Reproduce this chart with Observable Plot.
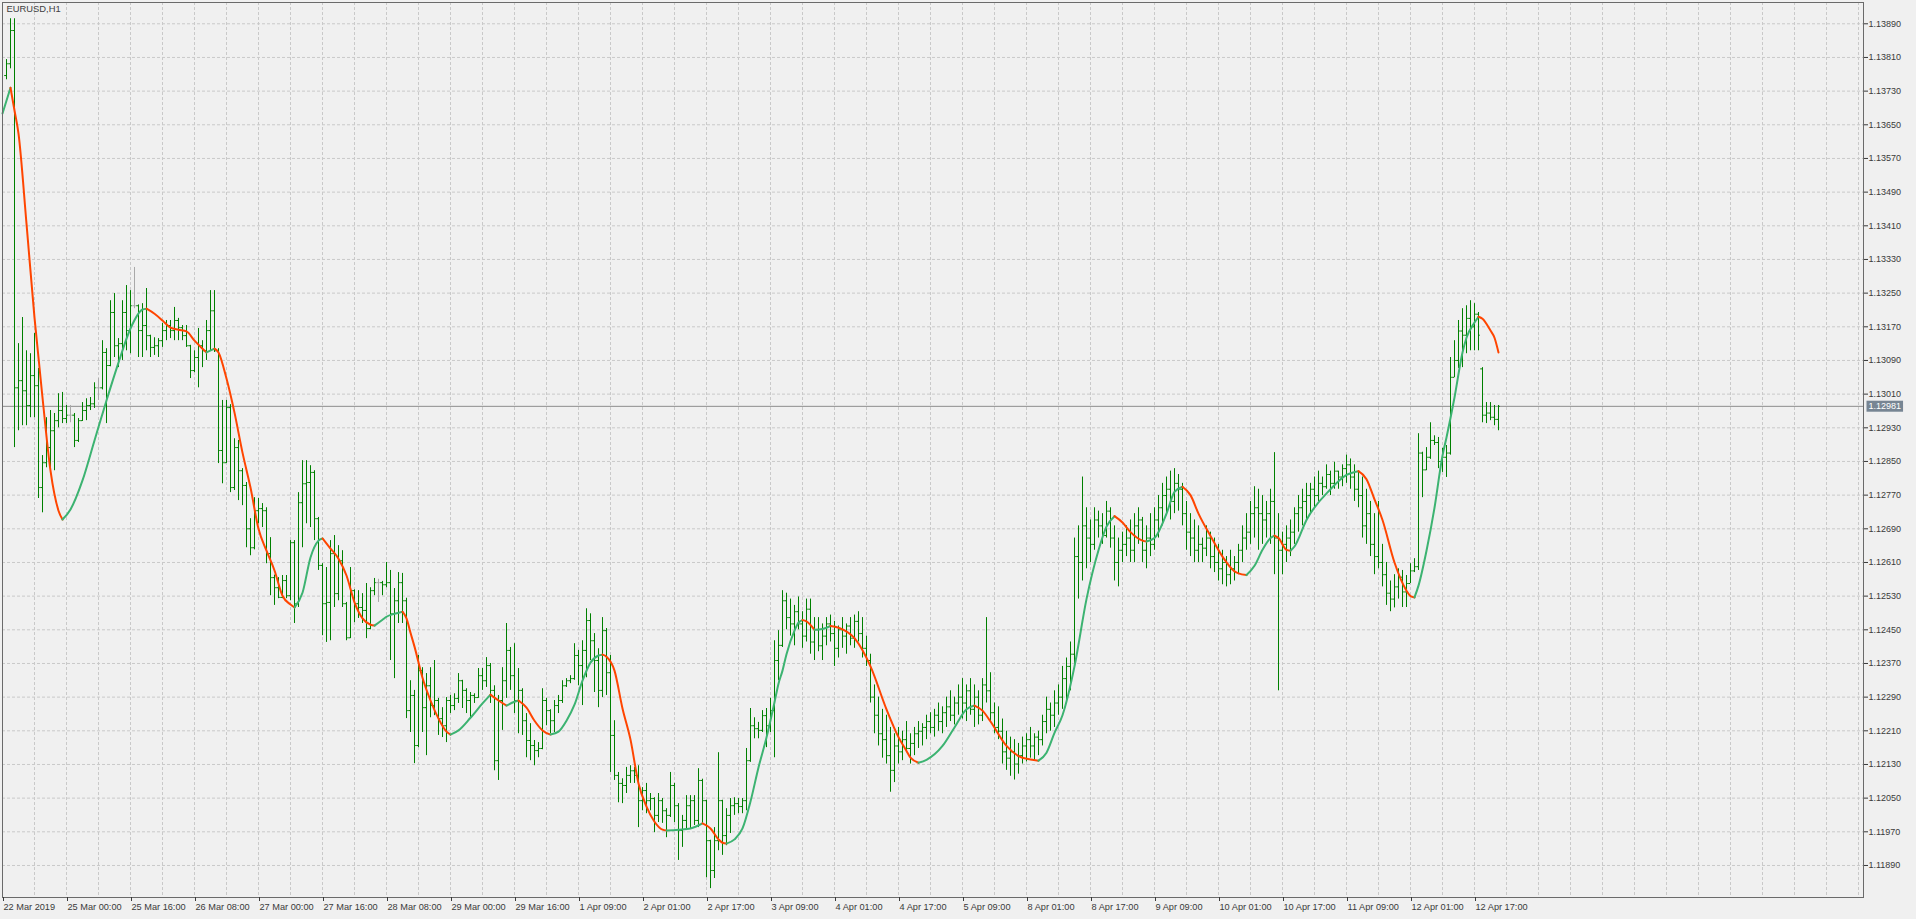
<!DOCTYPE html>
<html><head><meta charset="utf-8">
<script src="https://cdn.jsdelivr.net/npm/d3@7"></script>
<script src="https://cdn.jsdelivr.net/npm/@observablehq/plot@0.6"></script>
<style>
html,body{margin:0;padding:0;background:#f0f0f0;overflow:hidden}
#chart{width:1916px;height:919px}
</style></head><body><div id="chart"></div>
<script>
const symbolTitle = "EURUSD,H1";
const currentPrice = 1.12981;
const firstBar = -15; // bar index of the first bar (25 Mar 00:00 = 0)

const barOpen = [
1.13767,1.13795,1.13874,1.13025,1.13042,1.13018,1.12983,1.13054,1.13030,1.12788,
1.12847,1.12883,1.12923,1.12947,1.12971,1.12952,1.12960,1.12960,1.12900,1.12947,
1.12971,1.12983,1.12987,1.13025,1.13025,1.13109,1.13078,1.13204,1.13125,1.13130,
1.13204,1.13161,1.13220,1.13220,1.13161,1.13173,1.13149,1.13121,1.13125,1.13137,
1.13161,1.13173,1.13161,1.13185,1.13168,1.13149,1.13125,1.13066,1.13097,1.13125,
1.13113,1.13161,1.13208,1.13113,1.12876,1.12847,1.12978,1.12788,1.12883,1.12828,
1.12793,1.12690,1.12645,1.12733,1.12738,1.12733,1.12631,1.12574,1.12550,1.12527,
1.12567,1.12531,1.12657,1.12512,1.12752,1.12797,1.12800,1.12824,1.12714,1.12603,
1.12512,1.12515,1.12631,1.12536,1.12614,1.12512,1.12431,1.12543,1.12512,1.12503,
1.12496,1.12453,1.12543,1.12562,1.12562,1.12557,1.12562,1.12488,1.12519,1.12562,
1.12519,1.12258,1.12294,1.12175,1.12353,1.12265,1.12317,1.12270,1.12282,1.12239,
1.12222,1.12282,1.12270,1.12287,1.12329,1.12306,1.12282,1.12294,1.12289,1.12341,
1.12329,1.12365,1.12306,1.12139,1.12282,1.12329,1.12401,1.12341,1.12282,1.12306,
1.12234,1.12187,1.12175,1.12163,1.12168,1.12282,1.12258,1.12234,1.12270,1.12282,
1.12317,1.12329,1.12334,1.12389,1.12365,1.12401,1.12472,1.12424,1.12377,1.12306,
1.12448,1.12348,1.12199,1.12104,1.12085,1.12080,1.12104,1.12115,1.12104,1.12044,
1.12068,1.12044,1.12049,1.12009,1.12044,1.12020,1.12009,1.12080,1.12032,1.11973,
1.11997,1.12032,1.12044,1.11997,1.12092,1.12044,1.11949,1.11878,1.11949,1.12044,
1.11961,1.12009,1.12032,1.12037,1.12030,1.12044,1.12139,1.12222,1.12215,1.12211,
1.12246,1.12222,1.12258,1.12377,1.12413,
1.12519,1.12479,1.12464,1.12493,1.12464,1.12435,1.12499,1.12421,1.12450,1.12412,
1.12435,1.12464,1.12441,1.12406,1.12450,1.12435,1.12459,1.12430,1.12470,1.12441,
1.12406,1.12377,1.12290,1.12247,1.12203,1.12189,1.12151,1.12116,1.12174,1.12160,
1.12189,1.12168,1.12180,1.12203,1.12209,1.12218,1.12232,1.12218,1.12247,1.12232,
1.12253,1.12267,1.12247,1.12276,1.12290,1.12276,1.12305,1.12261,1.12290,1.12247,
1.12319,1.12305,1.12253,1.12218,1.12209,1.12160,1.12145,1.12160,1.12131,1.12151,
1.12174,1.12189,1.12174,1.12195,1.12189,1.12232,1.12261,1.12247,1.12276,1.12290,
1.12334,1.12363,1.12392,1.12624,1.12610,1.12697,1.12668,1.12653,1.12711,1.12697,
1.12674,1.12732,1.12668,1.12610,1.12639,1.12653,1.12668,1.12639,1.12697,1.12711,
1.12639,1.12668,1.12653,1.12711,1.12740,1.12769,1.12784,1.12755,1.12798,1.12784,
1.12726,1.12682,1.12668,1.12639,1.12653,1.12644,1.12668,1.12624,1.12610,1.12595,
1.12610,1.12581,1.12595,1.12610,1.12639,1.12668,1.12682,1.12726,1.12740,1.12726,
1.12711,1.12726,1.12755,1.12668,1.12639,1.12653,1.12668,1.12682,1.12726,1.12740,
1.12755,1.12769,1.12784,1.12769,1.12798,1.12790,1.12819,1.12798,1.12827,1.12813,
1.12833,1.12842,1.12813,1.12784,1.12769,1.12697,1.12726,1.12653,1.12624,1.12610,
1.12581,1.12537,1.12523,1.12552,1.12575,1.12540,1.12560,1.12590,1.12600,1.12870,
1.12830,1.12860,1.12900,1.12895,1.12850,1.12860,1.12870,1.13050,1.13090,1.13160,
1.13150,1.13190,1.13170,1.13200,1.13070,1.12960,1.12965,1.12955,1.12950];
const barHigh = [
1.13805,1.13902,1.13902,1.13130,1.13192,1.13113,1.13106,1.13154,1.13071,1.12864,
1.12954,1.12971,1.12964,1.13011,1.13014,1.12983,1.12983,1.12964,1.12952,1.12990,
1.12999,1.13002,1.13037,1.13047,1.13137,1.13118,1.13232,1.13249,1.13142,1.13232,
1.13268,1.13256,1.13311,1.13222,1.13225,1.13261,1.13150,1.13144,1.13142,1.13178,
1.13185,1.13185,1.13216,1.13190,1.13173,1.13173,1.13126,1.13113,1.13166,1.13137,
1.13185,1.13256,1.13256,1.13118,1.12995,1.12995,1.12985,1.12904,1.12900,1.12833,
1.12800,1.12714,1.12764,1.12762,1.12750,1.12740,1.12669,1.12580,1.12574,1.12579,
1.12579,1.12662,1.12662,1.12776,1.12852,1.12852,1.12840,1.12828,1.12717,1.12607,
1.12598,1.12662,1.12674,1.12650,1.12638,1.12515,1.12598,1.12545,1.12543,1.12536,
1.12560,1.12550,1.12572,1.12570,1.12565,1.12610,1.12591,1.12548,1.12586,1.12584,
1.12525,1.12329,1.12306,1.12389,1.12360,1.12346,1.12360,1.12377,1.12287,1.12265,
1.12289,1.12294,1.12298,1.12346,1.12330,1.12310,1.12301,1.12298,1.12358,1.12358,
1.12384,1.12370,1.12317,1.12294,1.12360,1.12465,1.12408,1.12417,1.12358,1.12310,
1.12251,1.12227,1.12187,1.12182,1.12310,1.12287,1.12260,1.12282,1.12294,1.12329,
1.12334,1.12341,1.12417,1.12401,1.12424,1.12500,1.12488,1.12441,1.12405,1.12479,
1.12453,1.12389,1.12234,1.12111,1.12096,1.12123,1.12127,1.12123,1.12127,1.12075,
1.12085,1.12061,1.12051,1.12061,1.12049,1.12025,1.12111,1.12085,1.12037,1.12009,
1.12056,1.12056,1.12056,1.12120,1.12095,1.12045,1.11950,1.11980,1.12158,1.12045,
1.12025,1.12049,1.12051,1.12049,1.12049,1.12168,1.12263,1.12241,1.12230,1.12258,
1.12263,1.12287,1.12424,1.12448,1.12543,
1.12537,1.12523,1.12508,1.12528,1.12493,1.12523,1.12523,1.12479,1.12479,1.12464,
1.12479,1.12485,1.12470,1.12459,1.12479,1.12464,1.12479,1.12485,1.12493,1.12479,
1.12435,1.12392,1.12319,1.12290,1.12261,1.12247,1.12218,1.12203,1.12218,1.12209,
1.12232,1.12203,1.12218,1.12232,1.12227,1.12247,1.12253,1.12261,1.12276,1.12267,
1.12290,1.12305,1.12290,1.12319,1.12334,1.12319,1.12334,1.12319,1.12305,1.12334,
1.12479,1.12348,1.12276,1.12267,1.12238,1.12209,1.12195,1.12189,1.12180,1.12195,
1.12203,1.12218,1.12203,1.12209,1.12247,1.12290,1.12276,1.12305,1.12319,1.12363,
1.12383,1.12421,1.12668,1.12697,1.12813,1.12740,1.12711,1.12740,1.12732,1.12726,
1.12755,1.12740,1.12697,1.12668,1.12682,1.12697,1.12711,1.12726,1.12740,1.12717,
1.12697,1.12726,1.12740,1.12769,1.12798,1.12813,1.12827,1.12833,1.12819,1.12798,
1.12755,1.12726,1.12711,1.12697,1.12668,1.12697,1.12682,1.12668,1.12653,1.12639,
1.12624,1.12639,1.12624,1.12653,1.12697,1.12726,1.12755,1.12790,1.12784,1.12769,
1.12755,1.12784,1.12871,1.12726,1.12682,1.12697,1.12711,1.12740,1.12769,1.12784,
1.12798,1.12798,1.12813,1.12827,1.12813,1.12842,1.12827,1.12848,1.12827,1.12842,
1.12865,1.12856,1.12842,1.12827,1.12813,1.12784,1.12755,1.12726,1.12755,1.12653,
1.12610,1.12566,1.12581,1.12595,1.12591,1.12579,1.12607,1.12619,1.12916,1.12872,
1.12883,1.12942,1.12911,1.12907,1.12881,1.12888,1.13097,1.13137,1.13185,1.13213,
1.13220,1.13232,1.13225,1.13204,1.13073,1.12990,1.12990,1.12983,1.12983];
const barLow = [
1.13757,1.13783,1.12883,1.12923,1.12935,1.12935,1.12954,1.12954,1.12762,1.12728,
1.12835,1.12828,1.12828,1.12930,1.12940,1.12940,1.12942,1.12883,1.12895,1.12945,
1.12947,1.12971,1.12976,1.12995,1.13020,1.12940,1.13075,1.13097,1.13073,1.13090,
1.13113,1.13106,1.13213,1.13097,1.13097,1.13113,1.13097,1.13102,1.13097,1.13121,
1.13137,1.13142,1.13137,1.13137,1.13137,1.13121,1.13047,1.13061,1.13025,1.13073,
1.13090,1.13113,1.13109,1.12845,1.12797,1.12845,1.12776,1.12781,1.12757,1.12745,
1.12645,1.12626,1.12640,1.12702,1.12693,1.12607,1.12531,1.12508,1.12524,1.12524,
1.12524,1.12519,1.12465,1.12503,1.12645,1.12702,1.12693,1.12662,1.12591,1.12436,
1.12420,1.12424,1.12503,1.12519,1.12503,1.12424,1.12429,1.12467,1.12477,1.12465,
1.12429,1.12450,1.12531,1.12515,1.12531,1.12550,1.12377,1.12334,1.12465,1.12465,
1.12239,1.12206,1.12132,1.12170,1.12206,1.12151,1.12241,1.12246,1.12199,1.12194,
1.12182,1.12251,1.12258,1.12275,1.12263,1.12251,1.12241,1.12275,1.12287,1.12306,
1.12313,1.12275,1.12115,1.12092,1.12211,1.12287,1.12306,1.12251,1.12203,1.12199,
1.12146,1.12139,1.12127,1.12146,1.12165,1.12222,1.12203,1.12206,1.12251,1.12275,
1.12313,1.12322,1.12330,1.12317,1.12270,1.12336,1.12377,1.12301,1.12265,1.12289,
1.12294,1.12111,1.12092,1.12039,1.12037,1.12061,1.12085,1.12085,1.11980,1.12020,
1.12013,1.12020,1.11968,1.11992,1.11990,1.11956,1.12004,1.11992,1.11902,1.11933,
1.11973,1.11978,1.11985,1.11980,1.11990,1.11861,1.11835,1.11859,1.11925,1.11914,
1.11937,1.11966,1.12009,1.12013,1.12013,1.12020,1.12135,1.12191,1.12191,1.12206,
1.12170,1.12206,1.12146,1.12329,1.12408,
1.12450,1.12435,1.12412,1.12450,1.12406,1.12421,1.12392,1.12377,1.12398,1.12377,
1.12412,1.12421,1.12363,1.12383,1.12406,1.12392,1.12412,1.12406,1.12421,1.12383,
1.12363,1.12276,1.12203,1.12174,1.12145,1.12131,1.12064,1.12087,1.12131,1.12139,
1.12160,1.12131,1.12151,1.12168,1.12174,1.12189,1.12203,1.12195,1.12209,1.12203,
1.12218,1.12232,1.12224,1.12247,1.12238,1.12232,1.12247,1.12218,1.12224,1.12232,
1.12276,1.12232,1.12203,1.12189,1.12131,1.12116,1.12102,1.12093,1.12107,1.12131,
1.12136,1.12145,1.12139,1.12151,1.12174,1.12203,1.12209,1.12218,1.12247,1.12261,
1.12276,1.12305,1.12363,1.12523,1.12566,1.12595,1.12610,1.12639,1.12668,1.12653,
1.12668,1.12644,1.12566,1.12552,1.12610,1.12624,1.12610,1.12610,1.12653,1.12610,
1.12595,1.12624,1.12639,1.12668,1.12697,1.12726,1.12711,1.12726,1.12732,1.12697,
1.12639,1.12624,1.12610,1.12610,1.12610,1.12624,1.12595,1.12586,1.12566,1.12557,
1.12552,1.12557,1.12566,1.12581,1.12610,1.12639,1.12653,1.12668,1.12639,1.12653,
1.12668,1.12653,1.12581,1.12305,1.12581,1.12610,1.12624,1.12653,1.12682,1.12697,
1.12711,1.12726,1.12740,1.12755,1.12769,1.12784,1.12769,1.12784,1.12784,1.12790,
1.12798,1.12784,1.12755,1.12740,1.12668,1.12653,1.12624,1.12581,1.12595,1.12552,
1.12508,1.12493,1.12502,1.12523,1.12503,1.12503,1.12560,1.12586,1.12591,1.12764,
1.12828,1.12855,1.12888,1.12833,1.12824,1.12812,1.12865,1.13049,1.13071,1.13073,
1.13106,1.13113,1.13113,1.13113,1.12942,1.12940,1.12947,1.12935,1.12923];
const barClose = [
1.13795,1.13874,1.13025,1.13042,1.13018,1.12983,1.13054,1.13030,1.12788,1.12847,
1.12883,1.12923,1.12947,1.12971,1.12952,1.12960,1.12960,1.12900,1.12947,1.12971,
1.12983,1.12987,1.13025,1.13025,1.13109,1.13078,1.13204,1.13125,1.13130,1.13204,
1.13161,1.13220,1.13220,1.13161,1.13173,1.13149,1.13121,1.13125,1.13137,1.13161,
1.13173,1.13161,1.13185,1.13168,1.13149,1.13125,1.13066,1.13097,1.13125,1.13113,
1.13161,1.13208,1.13113,1.12876,1.12847,1.12978,1.12788,1.12883,1.12828,1.12793,
1.12690,1.12645,1.12733,1.12738,1.12733,1.12631,1.12574,1.12550,1.12527,1.12567,
1.12531,1.12657,1.12512,1.12752,1.12797,1.12800,1.12824,1.12714,1.12603,1.12512,
1.12515,1.12631,1.12536,1.12614,1.12512,1.12431,1.12543,1.12512,1.12503,1.12496,
1.12453,1.12543,1.12562,1.12562,1.12557,1.12562,1.12488,1.12519,1.12562,1.12519,
1.12258,1.12294,1.12175,1.12353,1.12265,1.12317,1.12270,1.12282,1.12239,1.12222,
1.12282,1.12270,1.12287,1.12329,1.12306,1.12282,1.12294,1.12289,1.12341,1.12329,
1.12365,1.12306,1.12139,1.12282,1.12329,1.12401,1.12341,1.12282,1.12306,1.12234,
1.12187,1.12175,1.12163,1.12168,1.12282,1.12258,1.12234,1.12270,1.12282,1.12317,
1.12329,1.12334,1.12389,1.12365,1.12401,1.12472,1.12424,1.12377,1.12306,1.12448,
1.12348,1.12199,1.12104,1.12085,1.12080,1.12104,1.12115,1.12104,1.12044,1.12068,
1.12044,1.12049,1.12009,1.12044,1.12020,1.12009,1.12080,1.12032,1.11973,1.11997,
1.12032,1.12044,1.11997,1.12092,1.12044,1.11949,1.11878,1.11949,1.12044,1.11961,
1.12009,1.12032,1.12037,1.12030,1.12044,1.12139,1.12222,1.12215,1.12211,1.12246,
1.12222,1.12258,1.12377,1.12413,1.12519,
1.12479,1.12464,1.12493,1.12464,1.12435,1.12499,1.12421,1.12450,1.12412,1.12435,
1.12464,1.12441,1.12406,1.12450,1.12435,1.12459,1.12430,1.12470,1.12441,1.12406,
1.12377,1.12290,1.12247,1.12203,1.12189,1.12151,1.12116,1.12174,1.12160,1.12189,
1.12168,1.12180,1.12203,1.12209,1.12218,1.12232,1.12218,1.12247,1.12232,1.12253,
1.12267,1.12247,1.12276,1.12290,1.12276,1.12305,1.12261,1.12290,1.12247,1.12319,
1.12305,1.12253,1.12218,1.12209,1.12160,1.12145,1.12160,1.12131,1.12151,1.12174,
1.12189,1.12174,1.12195,1.12189,1.12232,1.12261,1.12247,1.12276,1.12290,1.12334,
1.12363,1.12392,1.12624,1.12610,1.12697,1.12668,1.12653,1.12711,1.12697,1.12674,
1.12732,1.12668,1.12610,1.12639,1.12653,1.12668,1.12639,1.12697,1.12711,1.12639,
1.12668,1.12653,1.12711,1.12740,1.12769,1.12784,1.12755,1.12798,1.12784,1.12726,
1.12682,1.12668,1.12639,1.12653,1.12644,1.12668,1.12624,1.12610,1.12595,1.12610,
1.12581,1.12595,1.12610,1.12639,1.12668,1.12682,1.12726,1.12740,1.12726,1.12711,
1.12726,1.12755,1.12668,1.12639,1.12653,1.12668,1.12682,1.12726,1.12740,1.12755,
1.12769,1.12784,1.12769,1.12798,1.12790,1.12819,1.12798,1.12827,1.12813,1.12833,
1.12842,1.12813,1.12784,1.12769,1.12697,1.12726,1.12653,1.12624,1.12610,1.12581,
1.12537,1.12523,1.12552,1.12575,1.12540,1.12560,1.12590,1.12600,1.12870,1.12830,
1.12860,1.12900,1.12895,1.12850,1.12860,1.12870,1.13050,1.13090,1.13160,1.13150,
1.13190,1.13170,1.13200,1.13150,1.12960,1.12965,1.12955,1.12950,1.12981];

// smoothed moving average (bar index, value)
const maIdx = [-16,-14,-13,-12,-10,-8,-6,-4,-2,-1,1,4,7,10,13,16,19,20,22,24,26,28,30,32,34,35,37,38,40,42,
44,46,48,50,52,54,56,57,59,61,63,64,66,68,70,72,74,76,77,79,80,82,84,85,86,87,89,91,93,95,
96,98,101,104,106,108,110,112,113,115,117,119,121,123,125,127,129,131,133,134,135,137,139,141,143,145,147,149,150,153,
156,159,161,163,164,165,167,169,171,173,175,177,178,179,
180,182,183,184,185,187,189,191,193,197,201,205,208,210,211,213,215,219,222,225,227,229,231,235,238,241,243,245,247,249,
252,255,258,260,262,264,266,269,270,272,275,277,279,281,283,286,289,292,293,295,297,299,301,302,303,305,306,307,310,316,
320,323,325,327,329,332,335,336,337,338,340,342,344,345,347,349,350,352,353,354,356,357,358];
const maVal = [1.13677,1.13738,1.13684,1.13629,1.13415,1.13192,1.13002,1.12828,1.12733,1.12712,1.12736,1.12805,1.12900,1.12995,1.13085,1.13166,1.13211,1.13213,1.13201,1.13185,1.13168,1.13163,1.13159,1.13137,1.13118,1.13109,1.13118,1.13109,1.13047,1.12966,
1.12871,1.12788,1.12690,1.12638,1.12591,1.12531,1.12510,1.12503,1.12538,1.12622,1.12662,1.12667,1.12643,1.12619,1.12579,1.12515,1.12477,1.12462,1.12460,1.12474,1.12481,1.12488,1.12493,1.12477,1.12443,1.12410,1.12336,1.12282,1.12239,1.12208,
1.12201,1.12211,1.12241,1.12275,1.12296,1.12282,1.12270,1.12279,1.12282,1.12265,1.12234,1.12211,1.12201,1.12208,1.12234,1.12272,1.12329,1.12372,1.12389,1.12391,1.12386,1.12353,1.12263,1.12189,1.12085,1.12030,1.11994,1.11975,1.11973,1.11975,
1.11978,1.11990,1.11978,1.11952,1.11944,1.11942,1.11952,1.11978,1.12042,1.12123,1.12194,1.12278,1.12322,1.12353,
1.12392,1.12448,1.12467,1.12473,1.12470,1.12450,1.12452,1.12459,1.12455,1.12430,1.12363,1.12261,1.12195,1.12162,1.12146,1.12134,1.12141,1.12174,1.12218,1.12261,1.12270,1.12258,1.12232,1.12174,1.12150,1.12142,1.12139,1.12158,1.12205,1.12247,
1.12363,1.12523,1.12639,1.12695,1.12720,1.12705,1.12682,1.12662,1.12660,1.12668,1.12726,1.12778,1.12790,1.12770,1.12726,1.12673,1.12624,1.12589,1.12584,1.12580,1.12602,1.12640,1.12668,1.12674,1.12668,1.12640,1.12638,1.12648,1.12711,1.12784,
1.12818,1.12827,1.12808,1.12760,1.12711,1.12610,1.12543,1.12530,1.12527,1.12555,1.12638,1.12740,1.12864,1.12907,1.13002,1.13109,1.13144,1.13180,1.13194,1.13189,1.13161,1.13144,1.13109];

const yTicks = [1.11890,1.11970,1.12050,1.12130,1.12210,1.12290,1.12370,1.12450,1.12530,1.12610,1.12690,1.12770,1.12850,1.12930,1.13010,1.13090,1.13170,1.13250,1.13330,1.13410,1.13490,1.13570,1.13650,1.13730,1.13810,1.13890];
const xTickIdx = [-16,0,16,32,48,64,80,96,112,128,144,160,176,192,208,224,240,256,272,288,304,320,336,352];
const xTickLabels = ["22 Mar 2019","25 Mar 00:00","25 Mar 16:00","26 Mar 08:00","27 Mar 00:00","27 Mar 16:00","28 Mar 08:00","29 Mar 00:00","29 Mar 16:00","1 Apr 09:00","2 Apr 01:00","2 Apr 17:00","3 Apr 09:00","4 Apr 01:00","4 Apr 17:00","5 Apr 09:00","8 Apr 01:00","8 Apr 17:00","9 Apr 09:00","10 Apr 01:00","10 Apr 17:00","11 Apr 09:00","12 Apr 01:00","12 Apr 17:00"];

const BAR = "#008000", DOJI = "#a9a9a9", MA_UP = "#3cb371", MA_DN = "#ff4500";
const GRID = "#c9c9c9", AXIS = "#3a3a3a", FRAME = "#6a6a6a";
const FONT = "'Liberation Sans', Arial, sans-serif";

const bars = barHigh.map((h, k) => ({
  i: firstBar + k, open: barOpen[k], high: h, low: barLow[k], close: barClose[k],
  color: barOpen[k] === barClose[k] ? DOJI : BAR
}));

// split MA into rising/falling segments
const maPts = maIdx.map((i, k) => ({i, v: maVal[k]}));
const maSeg = [];
let seg = -1, prevUp = null;
for (let k = 1; k < maPts.length; k++) {
  let up = maPts[k].v > maPts[k - 1].v ? true : maPts[k].v < maPts[k - 1].v ? false : prevUp;
  if (up !== prevUp) { seg++; maSeg.push({...maPts[k - 1], seg, color: up ? MA_UP : MA_DN}); }
  maSeg.push({...maPts[k], seg, color: up ? MA_UP : MA_DN});
  prevUp = up;
}

const vGrid = d3.range(-8, 449, 8);

const chart = Plot.plot({
  width: 1916, height: 919,
  marginLeft: 2, marginRight: 53, marginTop: 2, marginBottom: 22,
  x: {domain: [-16, 449.25], axis: null},
  y: {domain: [1.118139, 1.139406], axis: null},
  color: {type: "identity"},
  style: {background: "#f0f0f0", fontFamily: FONT, color: AXIS, overflow: "visible"},
  marks: [
    Plot.gridY(yTicks, {stroke: GRID, strokeOpacity: 1, strokeDasharray: "3,2"}),
    Plot.gridX(vGrid, {stroke: GRID, strokeOpacity: 1, strokeDasharray: "3,2"}),
    Plot.ruleY([currentPrice], {stroke: "#8c8c8c"}),
    Plot.ruleX(bars, {x: "i", y1: "low", y2: "high", stroke: "color"}),
    Plot.ruleY(bars, {y: "open", x1: d => d.i - 0.45, x2: "i", stroke: "color"}),
    Plot.ruleY(bars, {y: "close", x1: "i", x2: d => d.i + 0.45, stroke: "color"}),
    Plot.line(maSeg, {x: "i", y: "v", z: "seg", stroke: "color", strokeWidth: 2, curve: "monotone-x"}),
    Plot.frame({stroke: FRAME}),
    Plot.axisY(yTicks, {anchor: "right", label: null, tickSize: 4, tickPadding: 1, tickFormat: d => d.toFixed(5), fontSize: 9, stroke: AXIS}),
    Plot.axisX(xTickIdx, {anchor: "bottom", label: null, tickSize: 4, tickPadding: 2, tickFormat: d => xTickLabels[xTickIdx.indexOf(d)], textAnchor: "start", dx: 1, fontSize: 9.2, stroke: AXIS}),
    Plot.text([symbolTitle], {frameAnchor: "top-left", text: d => d, dx: 4, dy: 3, fontSize: 9.4, fill: "#404040", textAnchor: "start", lineAnchor: "top"}),
    Plot.text([currentPrice], {x: () => 449.25, y: d => d, text: d => d.toFixed(5), dx: 5, textAnchor: "start", fill: "#ffffff", fontSize: 9})
  ]
});
document.getElementById("chart").appendChild(chart);

// background box behind the current price label
d3.select(chart).selectAll("text").each(function() {
  const isPrice = this.textContent === currentPrice.toFixed(5) &&
    (this.getAttribute("fill") === "#ffffff" || this.parentNode.getAttribute("fill") === "#ffffff");
  if (isPrice) {
    const b = this.getBBox();
    d3.select(this.parentNode).insert("rect", () => this)
      .attr("x", b.x - 2).attr("y", b.y - 0.5).attr("width", b.width + 4).attr("height", b.height + 1)
      .attr("fill", "#778593").attr("stroke", "none")
      .attr("transform", this.getAttribute("transform"));
  }
});
</script>
</body></html>
